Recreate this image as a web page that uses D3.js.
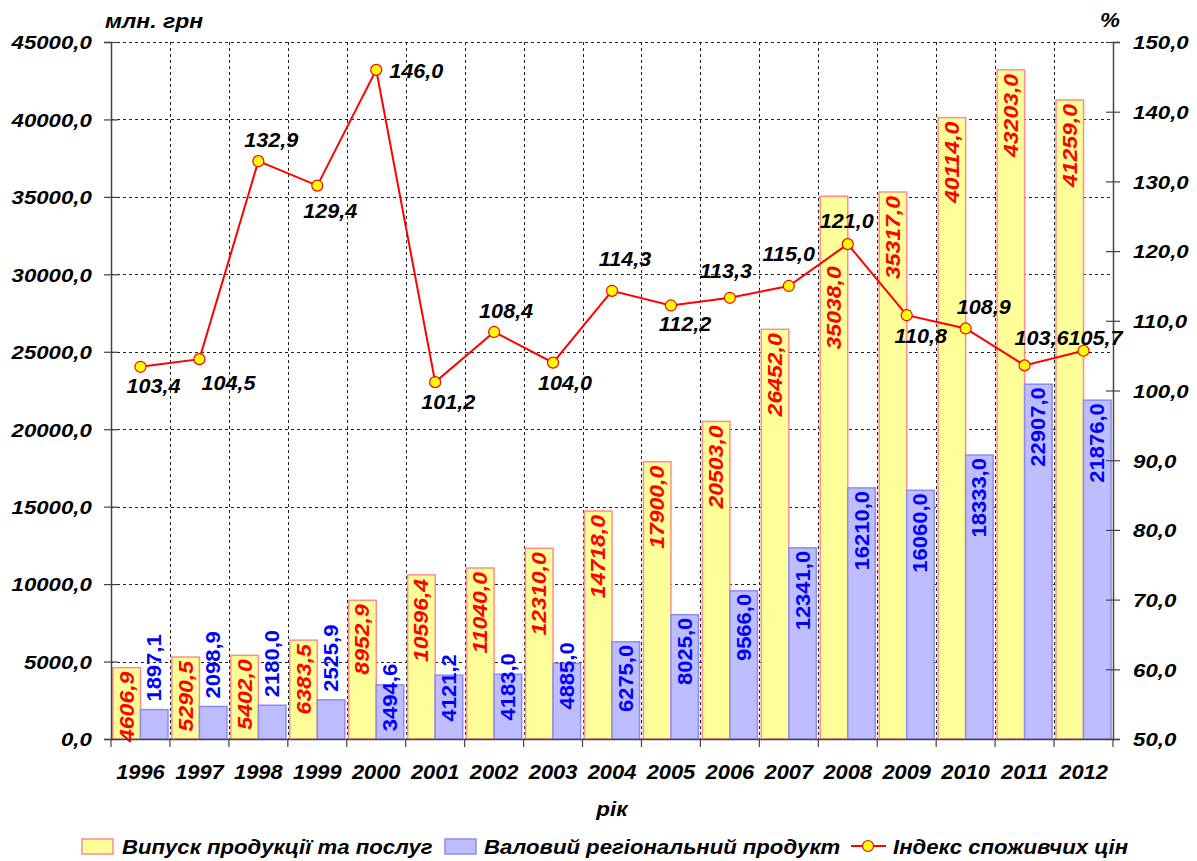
<!DOCTYPE html>
<html>
<head>
<meta charset="utf-8">
<script src="https://cdn.jsdelivr.net/npm/d3@7"></script>
<style>
  body { margin: 0; background: #fff; }
  svg { display: block; }
  text { font-family: "Liberation Sans", Arial, sans-serif; font-weight: bold; }
</style>
</head>
<body>
<svg id="chart" width="1197" height="861"></svg>
<script>
// data
const years = ['1996', '1997', '1998', '1999', '2000', '2001', '2002', '2003', '2004', '2005', '2006', '2007', '2008', '2009', '2010', '2011', '2012'];
const output = [4606.9, 5290.5, 5402.0, 6383.5, 8952.9, 10596.4, 11040.0, 12310.0, 14718.0, 17900.0, 20503.0, 26452.0, 35038.0, 35317.0, 40114.0, 43203.0, 41259.0];
const grp = [1897.1, 2098.9, 2180.0, 2525.9, 3494.6, 4121.2, 4183.0, 4885.0, 6275.0, 8025.0, 9566.0, 12341.0, 16210.0, 16060.0, 18333.0, 22907.0, 21876.0];
const cpi = [103.4, 104.5, 132.9, 129.4, 146.0, 101.2, 108.4, 104.0, 114.3, 112.2, 113.3, 115.0, 121.0, 110.8, 108.9, 103.6, 105.7];
const leftTicks = [0, 5000, 10000, 15000, 20000, 25000, 30000, 35000, 40000, 45000];
const rightTicks = [50, 60, 70, 80, 90, 100, 110, 120, 130, 140, 150];
const seriesNames = ['Випуск продукції та послуг', 'Валовий регіональний продукт', 'Індекс споживчих цін'];

// label placement (style only): [dx, dy] from the point
const cpiLabelOffset = [[13, 26], [29, 31], [13, -14], [13, 32], [40, 8], [13, 27], [12, -14], [12, 27], [13, -25], [14, 26], [-4, -20], [0, -25], [-1, -16], [14, 28], [18, -14], [17, -20], [12, -6]];
const redLabelNudge = { 12: 66 };

const yellowFill = '#FFFF99', yellowStroke = '#FF8C8C';
const blueFill = '#BDBDFF', blueStroke = '#8C8CF0';

const pLeft = 111, pRight = 1113, pTop = 42, pBottom = 739;

const fmt = v => d3.format('.1f')(v).replace('.', ',');

const svg = d3.select('#chart');

const x = d3.scaleBand().domain(years).range([pLeft, pRight]).padding(0);
const inner = d3.scaleBand().domain([0, 1]).range([0, x.bandwidth()]).paddingInner(0).paddingOuter(0.07);
const yL = d3.scaleLinear().domain([0, 45000]).range([pBottom, pTop]);
const yR = d3.scaleLinear().domain([50, 150]).range([pBottom, pTop]);

// grid
const grid = svg.append('g').attr('stroke', '#222').attr('stroke-width', 1).attr('stroke-dasharray', '3,3');
grid.selectAll('.hg')
    .data(leftTicks.filter(d => d > 0))
    .enter().append('line')
    .attr('x1', pLeft).attr('x2', pRight)
    .attr('y1', d => Math.round(yL(d)) + 0.5).attr('y2', d => Math.round(yL(d)) + 0.5);
grid.selectAll('.vg')
    .data(years.slice(1))
    .enter().append('line')
    .attr('x1', d => Math.round(x(d)) + 0.5).attr('x2', d => Math.round(x(d)) + 0.5)
    .attr('y1', pTop).attr('y2', pBottom);

// bars
const groups = svg.selectAll('.yr')
    .data(years)
    .enter().append('g')
    .attr('transform', d => `translate(${x(d)},0)`);

groups.append('rect')
    .attr('x', inner(0))
    .attr('width', inner.bandwidth())
    .attr('y', (d, i) => yL(output[i]))
    .attr('height', (d, i) => pBottom - yL(output[i]))
    .attr('fill', yellowFill)
    .attr('stroke', yellowStroke)
    .attr('stroke-width', 1.5);

groups.append('rect')
    .attr('x', inner(1))
    .attr('width', inner.bandwidth())
    .attr('y', (d, i) => yL(grp[i]))
    .attr('height', (d, i) => pBottom - yL(grp[i]))
    .attr('fill', blueFill)
    .attr('stroke', blueStroke)
    .attr('stroke-width', 1.5);

// axes
const axL = svg.append('g')
    .attr('transform', `translate(${pLeft},0)`)
    .call(d3.axisLeft(yL).tickValues(leftTicks).tickSize(7).tickFormat(fmt));
axL.select('.domain').attr('stroke', '#444').attr('stroke-width', 1.5);
axL.selectAll('.tick line').attr('x1', 7).attr('x2', -7).attr('stroke', '#444').attr('stroke-width', 1.2);
axL.selectAll('.tick text')
    .attr('x', -16.4).attr('dy', '0.36em')
    .attr('transform', 'scale(1.17,1)')
    .attr('font-size', 19).attr('font-style', 'italic').attr('fill', '#000');

const axR = svg.append('g')
    .attr('transform', `translate(${pRight},0)`)
    .call(d3.axisRight(yR).tickValues(rightTicks).tickSize(7).tickFormat(fmt));
axR.select('.domain').attr('stroke', '#444').attr('stroke-width', 1.5);
axR.selectAll('.tick line').attr('x1', -7).attr('x2', 7).attr('stroke', '#444').attr('stroke-width', 1.2);
axR.selectAll('.tick text')
    .attr('x', 17.2).attr('dy', '0.36em')
    .attr('transform', 'scale(1.17,1)')
    .attr('font-size', 19).attr('font-style', 'italic').attr('fill', '#000');

const axB = svg.append('g')
    .attr('transform', `translate(0,${pBottom})`)
    .call(d3.axisBottom(x).tickSize(0).tickSizeOuter(0));
axB.select('.domain').attr('stroke', '#444').attr('stroke-width', 1.5);
axB.selectAll('.tick text')
    .attr('y', 0).attr('dy', null)
    .attr('transform', 'translate(0,40) scale(1.12,1)')
    .attr('font-size', 19.5).attr('font-style', 'italic').attr('fill', '#000');
axB.selectAll('.bt')
    .data(years.concat(['end']))
    .enter().append('line')
    .attr('x1', d => d === 'end' ? pRight : x(d)).attr('x2', d => d === 'end' ? pRight : x(d))
    .attr('y1', 0).attr('y2', 8)
    .attr('stroke', '#444').attr('stroke-width', 1.2);

// bar labels (red, inside end of yellow bars)
groups.append('text')
    .text((d, i) => fmt(output[i]))
    .attr('text-anchor', 'end')
    .attr('font-size', 20).attr('font-style', 'italic').attr('fill', '#FF0000')
    .attr('transform', (d, i) => {
        const cx = inner(0) + inner.bandwidth() / 2 + 7;
        const ty = yL(output[i]) + 4 + (redLabelNudge[i] || 0);
        return `translate(${cx},${ty}) rotate(-90) scale(1.15,1)`;
    });

// bar labels (blue)
groups.append('text')
    .text((d, i) => fmt(grp[i]))
    .attr('text-anchor', 'end')
    .attr('font-size', 20).attr('fill', '#0000FF')
    .each(function (d, i) {
        const len = this.getComputedTextLength() * 1.1;
        const barTop = yL(grp[i]);
        const barH = pBottom - barTop;
        let ty;
        if (barH >= len + 20) ty = barTop + 3;
        else if (barH >= 50) ty = barTop - 21;
        else ty = barTop - 8 - len;
        const cx = inner(1) + inner.bandwidth() / 2 + 7;
        d3.select(this).attr('transform', `translate(${cx},${ty}) rotate(-90) scale(1.1,1)`);
    });

// CPI line
const px = (d, i) => x(years[i]) + x.bandwidth() / 2;
const line = d3.line().x((d, i) => px(d, i)).y(d => yR(d));
svg.append('path')
    .datum(cpi)
    .attr('d', line)
    .attr('fill', 'none')
    .attr('stroke', '#FF0000')
    .attr('stroke-width', 2);

svg.selectAll('.mk')
    .data(cpi)
    .enter().append('circle')
    .attr('cx', px)
    .attr('cy', d => yR(d))
    .attr('r', 5.5)
    .attr('fill', '#FFFF00')
    .attr('stroke', '#FF0000')
    .attr('stroke-width', 1.2);

svg.selectAll('.cl')
    .data(cpi)
    .enter().append('text')
    .text(fmt)
    .attr('text-anchor', 'middle')
    .attr('font-size', 20).attr('font-style', 'italic').attr('fill', '#000')
    .attr('transform', (d, i) => `translate(${px(d, i) + cpiLabelOffset[i][0]},${yR(d) + cpiLabelOffset[i][1]}) scale(1.08,1)`);

// axis titles
svg.append('text').text('млн. грн')
    .attr('font-size', 20).attr('font-style', 'italic')
    .attr('transform', 'translate(105,28) scale(1.15,1)');
svg.append('text').text('%')
    .attr('font-size', 20).attr('font-style', 'italic')
    .attr('transform', 'translate(1100,27) scale(1.12,1)');
svg.append('text').text('рік')
    .attr('font-size', 20).attr('font-style', 'italic').attr('text-anchor', 'middle')
    .attr('transform', `translate(${(pLeft + pRight) / 2},816) scale(1.12,1)`);

// legend
const lg = svg.append('g');
lg.append('rect').attr('x', 82).attr('y', 839).attr('width', 31).attr('height', 15)
    .attr('fill', yellowFill).attr('stroke', yellowStroke).attr('stroke-width', 1.5);
lg.append('text').text(seriesNames[0])
    .attr('font-size', 20.5).attr('font-style', 'italic')
    .attr('transform', 'translate(122,854) scale(1.08,1)');
lg.append('rect').attr('x', 445).attr('y', 839).attr('width', 31).attr('height', 15)
    .attr('fill', blueFill).attr('stroke', blueStroke).attr('stroke-width', 1.5);
lg.append('text').text(seriesNames[1])
    .attr('font-size', 20.5).attr('font-style', 'italic')
    .attr('transform', 'translate(484,854) scale(1.08,1)');
lg.append('line').attr('x1', 851).attr('x2', 886).attr('y1', 846).attr('y2', 846)
    .attr('stroke', '#FF0000').attr('stroke-width', 2);
lg.append('circle').attr('cx', 868).attr('cy', 846).attr('r', 5.5)
    .attr('fill', '#FFFF00').attr('stroke', '#FF0000').attr('stroke-width', 1.2);
lg.append('text').text(seriesNames[2])
    .attr('font-size', 20.5).attr('font-style', 'italic')
    .attr('transform', 'translate(893,854) scale(1.08,1)');
</script>
</body>
</html>
